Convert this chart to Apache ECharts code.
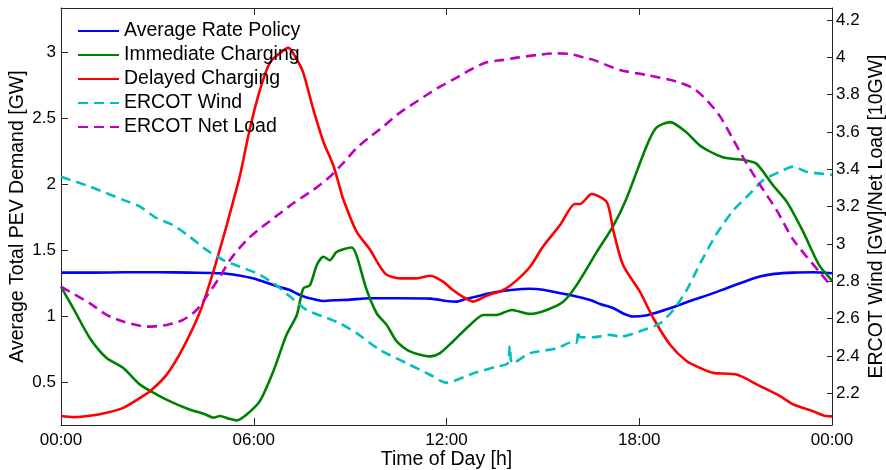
<!DOCTYPE html>
<html>
<head>
<meta charset="utf-8">
<script src="https://cdn.jsdelivr.net/npm/echarts@6/dist/echarts.min.js"></script>
<style>
  html, body { margin: 0; padding: 0; background: #fff; }
  #chart { width: 886px; height: 470px; }
</style>
</head>
<body>
<div id="chart"></div>
<script>
// Tick positions
const hourTicks = [0, 6, 12, 18, 24];
const demandTicks = [0.5, 1, 1.5, 2, 2.5, 3];
const ercotTicks = [2.2, 2.4, 2.6, 2.8, 3, 3.2, 3.4, 3.6, 3.8, 4, 4.2];

// PEV demand [GW], pairs of [hour of day, value]
const averageRatePolicy = [
  [0,1.33],[1,1.33],[2,1.332],[3,1.333],[4,1.33],[5,1.325],[5.5,1.31],[6,1.285],[6.5,1.245],
  [6.8,1.22],[7.1,1.2],[7.35,1.17],[7.6,1.145],[7.85,1.13],[8.2,1.115],[8.5,1.12],[9,1.125],
  [9.6,1.135],[10.5,1.135],[11.5,1.133],[12,1.115],[12.3,1.11],[12.6,1.13],[13,1.153],
  [13.5,1.18],[14,1.198],[14.6,1.208],[15,1.2],[15.5,1.175],[15.84,1.16],[16.47,1.122],
  [16.8,1.09],[17.2,1.06],[17.5,1.02],[17.8,0.997],[18.2,1.005],[18.65,1.035],[19.2,1.08],
  [19.67,1.122],[20.2,1.165],[20.7,1.21],[21.2,1.255],[21.75,1.3],[22.2,1.32],[22.8,1.33],
  [23.4,1.332],[24,1.325]
];
const immediateCharging = [
  [0,1.223],[0.38,1.06],[0.9,0.833],[1.42,0.683],[1.94,0.607],[2.46,0.481],[2.98,0.406],
  [3.5,0.343],[4,0.293],[4.5,0.255],[4.74,0.23],[4.95,0.243],[5.2,0.225],[5.47,0.21],
  [5.78,0.255],[6.19,0.356],[6.61,0.582],[7.02,0.858],[7.34,1.009],[7.54,1.21],[7.75,1.235],
  [7.96,1.386],[8.17,1.45],[8.37,1.424],[8.58,1.487],[9.05,1.52],[9.2,1.46],[9.5,1.21],
  [9.83,1.02],[10.14,0.933],[10.45,0.808],[10.86,0.733],[11.5,0.695],[11.8,0.72],[12.2,0.808],
  [12.73,0.933],[13.15,1.009],[13.56,1.009],[14.03,1.047],[14.6,1.017],[15.12,1.047],
  [15.64,1.11],[16.05,1.235],[16.68,1.487],[17.2,1.688],[17.6,1.89],[18.23,2.29],[18.54,2.43],
  [18.96,2.47],[19.48,2.39],[19.9,2.29],[20.6,2.204],[21.34,2.18],[21.66,2.153],[22.17,1.99],
  [22.6,1.864],[23.1,1.64],[23.6,1.386],[24,1.27]
];
const delayedCharging = [
  [0,0.243],[0.4,0.235],[0.9,0.245],[1.42,0.268],[1.94,0.305],[2.46,0.38],[2.77,0.43],
  [3.29,0.557],[3.8,0.76],[4.33,1.035],[4.74,1.336],[5.16,1.69],[5.36,1.87],[5.57,2.065],
  [5.88,2.42],[6.2,2.72],[6.5,2.92],[6.82,2.995],[7.08,3.033],[7.34,2.945],[7.54,2.845],
  [7.85,2.57],[8.17,2.32],[8.48,2.14],[8.69,1.965],[8.78,1.89],[9.2,1.64],[9.6,1.51],
  [10.1,1.32],[10.55,1.286],[11.07,1.286],[11.5,1.306],[11.9,1.26],[12.2,1.198],[12.5,1.148],
  [12.84,1.11],[13.25,1.155],[13.77,1.198],[14.19,1.273],[14.6,1.374],[15,1.525],[15.53,1.688],
  [16,1.85],[16.16,1.85],[16.52,1.925],[16.99,1.864],[17.2,1.64],[17.5,1.386],[18.02,1.185],
  [18.44,0.984],[18.96,0.783],[19.48,0.658],[19.9,0.607],[20.3,0.57],[21.03,0.557],
  [21.76,0.47],[22.38,0.394],[22.8,0.33],[23.4,0.28],[23.8,0.243],[24,0.24]
];

// ERCOT wind [GW] and net load [10 GW]
const ercotWind = [
  [0,3.36],[0.9,3.307],[1.94,3.236],[2.46,3.2],[2.98,3.138],[3.5,3.1],[4,3.039],[4.53,2.968],
  [5.05,2.914],[5.57,2.878],[6.09,2.843],[6.61,2.79],[7.13,2.718],[7.65,2.646],[8.17,2.61],
  [8.68,2.575],[9.2,2.522],[9.93,2.432],[10.76,2.361],[11.5,2.298],[12,2.257],[12.84,2.307],
  [13.56,2.343],[13.9,2.36],[13.97,2.453],[14.05,2.36],[14.6,2.415],[15.43,2.44],[15.95,2.477],
  [16.05,2.47],[16.1,2.535],[16.15,2.5],[16.57,2.5],[17.1,2.513],[17.4,2.503],[18.13,2.539],
  [18.65,2.575],[19.06,2.646],[19.48,2.754],[19.9,2.897],[20.42,3.057],[20.93,3.18],
  [21.45,3.27],[21.87,3.343],[22.38,3.387],[22.8,3.414],[23.2,3.387],[24,3.37]
];
const ercotNetLoad = [
  [0,2.771],[0.9,2.682],[1.42,2.62],[1.94,2.584],[2.67,2.557],[3.29,2.566],[3.8,2.593],
  [4.22,2.646],[4.53,2.718],[4.95,2.825],[5.26,2.914],[5.78,3.021],[6.4,3.11],[6.82,3.164],
  [7.23,3.218],[7.85,3.289],[8.37,3.36],[8.73,3.423],[9.2,3.513],[9.6,3.571],[10.03,3.628],
  [10.45,3.691],[10.86,3.739],[11.38,3.798],[11.8,3.843],[12.32,3.891],[12.73,3.932],
  [13.25,3.973],[13.77,3.986],[14.19,3.998],[14.81,4.012],[15.43,4.021],[15.84,4.018],
  [16.36,3.995],[16.57,3.986],[17.4,3.932],[18.23,3.905],[19.16,3.87],[19.68,3.834],
  [20.1,3.771],[20.52,3.682],[20.93,3.557],[21.34,3.432],[21.76,3.316],[22.28,3.18],
  [22.8,3.021],[23.6,2.852],[24,2.77]
];

const FONT = 'Liberation Sans, Arial, Helvetica, sans-serif';
const AXIS_COLOR = '#262626';

function hourLabel(v) {
  const h = Math.round(v) % 24;
  return (h < 10 ? '0' : '') + h + ':00';
}

function lineSeries(name, data, color, yAxisIndex, dashed) {
  return {
    name: name,
    type: 'line',
    data: data,
    yAxisIndex: yAxisIndex,
    symbol: 'none',
    smooth: 0.25,
    animation: false,
    lineStyle: { color: color, width: 2.6, type: dashed ? [10, 6] : 'solid' },
    itemStyle: { color: color }
  };
}

const chart = echarts.init(document.getElementById('chart'), null, { renderer: 'canvas' });

chart.setOption({
  animation: false,
  backgroundColor: '#ffffff',
  textStyle: { fontFamily: FONT },
  grid: { left: 61, right: 54, top: 8, bottom: 45, containLabel: false, outerBoundsMode: 'none' },
  legend: {
    orient: 'vertical',
    left: 77,
    top: 21,
    padding: 0,
    itemWidth: 41,
    itemHeight: 14,
    itemGap: 4,
    itemStyle: { opacity: 0, color: 'rgba(0,0,0,0)', borderWidth: 0 },
    textStyle: { fontFamily: FONT, fontSize: 19.5, color: '#000', lineHeight: 20 },
    data: ['Average Rate Policy', 'Immediate Charging', 'Delayed Charging', 'ERCOT Wind', 'ERCOT Net Load']
  },
  xAxis: [
    {
      type: 'value', min: 0, max: 24, interval: 6,
      name: 'Time of Day [h]', nameLocation: 'middle', nameGap: 25, nameMoveOverlap: false,
      nameTextStyle: { fontFamily: FONT, fontSize: 19.5, color: '#000' },
      axisLine: { show: true, onZero: false, lineStyle: { color: AXIS_COLOR, width: 1 } },
      axisTick: { show: true, inside: true, length: 7, lineStyle: { color: AXIS_COLOR } },
      axisLabel: { fontFamily: FONT, fontSize: 17, color: '#000', margin: 7,
        customValues: hourTicks, formatter: hourLabel },
      splitLine: { show: false }
    },
    {
      type: 'value', min: 0, max: 24, interval: 6, position: 'top',
      axisLine: { show: true, onZero: false, lineStyle: { color: AXIS_COLOR, width: 1 } },
      axisTick: { show: true, inside: true, length: 7, lineStyle: { color: AXIS_COLOR } },
      axisLabel: { show: false },
      splitLine: { show: false }
    }
  ],
  yAxis: [
    {
      type: 'value', min: 0.175, max: 3.335, position: 'left',
      name: 'Average Total PEV Demand [GW]', nameLocation: 'middle', nameGap: 33, nameRotate: 90,
      nameMoveOverlap: false,
      nameTextStyle: { fontFamily: FONT, fontSize: 19.5, color: '#000' },
      axisLine: { show: true, onZero: false, lineStyle: { color: AXIS_COLOR, width: 1 } },
      axisTick: { show: true, inside: true, length: 7, customValues: demandTicks,
        lineStyle: { color: AXIS_COLOR } },
      axisLabel: { fontFamily: FONT, fontSize: 17, color: '#000', margin: 5,
        customValues: demandTicks },
      splitLine: { show: false }
    },
    {
      type: 'value', min: 2.03, max: 4.264, position: 'right',
      name: 'ERCOT Wind [GW]/Net Load [10GW]', nameLocation: 'middle', nameGap: 35, nameRotate: 90,
      nameMoveOverlap: false,
      nameTextStyle: { fontFamily: FONT, fontSize: 19.5, color: '#000' },
      axisLine: { show: true, onZero: false, lineStyle: { color: AXIS_COLOR, width: 1 } },
      axisTick: { show: true, inside: true, length: 5, customValues: ercotTicks,
        lineStyle: { color: AXIS_COLOR } },
      axisLabel: { fontFamily: FONT, fontSize: 17, color: '#000', margin: 4,
        customValues: ercotTicks },
      splitLine: { show: false }
    }
  ],
  series: [
    lineSeries('Average Rate Policy', averageRatePolicy, '#0000ff', 0, false),
    lineSeries('Immediate Charging', immediateCharging, '#008000', 0, false),
    lineSeries('Delayed Charging', delayedCharging, '#ff0000', 0, false),
    lineSeries('ERCOT Wind', ercotWind, '#00bfbf', 1, true),
    lineSeries('ERCOT Net Load', ercotNetLoad, '#bf00bf', 1, true)
  ]
});
</script>
</body>
</html>
